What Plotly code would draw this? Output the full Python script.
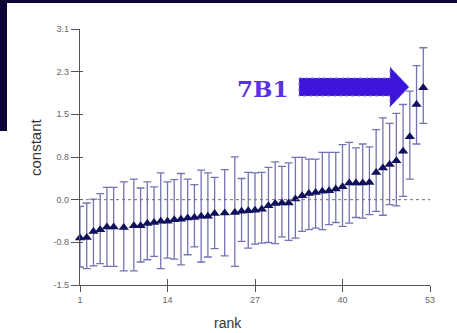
import plotly.graph_objects as go

ranks = [1, 2, 3, 4, 5, 6, 7.5, 9, 10, 11, 12, 13, 14, 15, 16, 17, 18, 19, 20, 21, 22.5, 24, 25, 26,
         27, 28, 29, 30, 31, 32, 33, 34, 35, 36, 37, 38, 39, 40, 41, 42, 43, 44, 45, 46, 47, 48, 49, 50, 51, 52]
values = [-0.69, -0.68, -0.57, -0.54, -0.49, -0.49, -0.50, -0.47, -0.47, -0.43, -0.41, -0.39, -0.39, -0.36,
          -0.35, -0.33, -0.32, -0.30, -0.30, -0.25, -0.24, -0.23, -0.21, -0.20,
          -0.19, -0.17, -0.11, -0.07, -0.06, -0.06, 0.01, 0.07, 0.11, 0.13, 0.15, 0.16, 0.19, 0.23, 0.30,
          0.30, 0.30, 0.31, 0.49, 0.57, 0.63, 0.70, 0.87, 1.13, 1.71, 2.01]
upper = [-0.12, -0.06, 0.01, 0.11, 0.22, 0.22, 0.32, 0.37, 0.21, 0.32, 0.23, 0.48, 0.32, 0.36, 0.47, 0.37,
         0.27, 0.53, 0.48, 0.40, 0.54, 0.77, 0.38, 0.49,
         0.48, 0.49, 0.58, 0.68, 0.60, 0.66, 0.76, 0.76, 0.73, 0.73, 0.85, 0.85, 0.85, 0.99, 1.03, 0.93,
         1.00, 0.95, 1.26, 1.47, 1.37, 1.55, 1.71, 1.95, 2.41, 2.73]
lower = [-1.21, -1.24, -1.19, -1.15, -1.20, -1.20, -1.28, -1.28, -1.12, -1.08, -1.02, -1.24, -1.05, -1.07,
         -1.17, -0.99, -0.85, -1.12, -1.03, -0.88, -1.01, -1.20, -0.75, -0.87,
         -0.80, -0.78, -0.77, -0.79, -0.67, -0.73, -0.69, -0.57, -0.54, -0.51, -0.54, -0.45, -0.41, -0.48,
         -0.42, -0.32, -0.33, -0.27, -0.21, -0.28, -0.09, -0.11, 0.06, 0.37, 1.00, 1.37]

x_ticks = [1, 14, 27, 40, 53]
y_step = 2.3 / 3
y_tickvals = [k * y_step for k in range(-2, 5)]
y_ticktext = ["-1.5", "-0.8", "0.0", "0.8", "1.5", "2.3", "3.1"]
label_text = "7B1"
x_title = "rank"
y_title = "constant"

err_plus = [u - v for u, v in zip(upper, values)]
err_minus = [v - l for v, l in zip(values, lower)]

fig = go.Figure()
fig.add_trace(go.Scatter(
    x=ranks, y=values, mode="markers",
    marker=dict(symbol="triangle-up", size=9, color="#10105c"),
    error_y=dict(type="data", symmetric=False, array=err_plus, arrayminus=err_minus,
                 color="#7474b4", thickness=1.3, width=4),
    cliponaxis=False, showlegend=False,
))
# invisible trace for the overlay axes (crossing ticks)
fig.add_trace(go.Scatter(x=[1], y=[0], xaxis="x2", yaxis="y2", mode="markers",
                         marker=dict(opacity=0), showlegend=False, hoverinfo="skip"))

fig.add_hline(y=0, line=dict(color="#707070", width=1, dash="dot"))

y_range = [-2 * y_step, 4 * y_step]
axis_font = dict(family="Liberation Sans, Arial, sans-serif", size=9, color="#666666")
fig.update_layout(
    width=457, height=333,
    margin=dict(l=80, r=27, t=29, b=48),
    paper_bgcolor="white", plot_bgcolor="white",
    xaxis=dict(range=[1, 53], tickvals=x_ticks, ticks="outside", ticklen=6, tickcolor="#555",
               tickwidth=1.2, showline=True, linecolor="#555", linewidth=1.2, showgrid=False,
               zeroline=False, tickfont=axis_font, automargin=False),
    yaxis=dict(range=y_range, tickvals=y_tickvals, ticktext=y_ticktext, ticks="outside", ticklen=8,
               tickcolor="#555", tickwidth=1.2, showline=True, linecolor="#555", linewidth=1.2,
               showgrid=False, zeroline=False, tickfont=axis_font, automargin=False),
    xaxis2=dict(range=[1, 53], overlaying="x", tickvals=x_ticks, ticks="inside", ticklen=6,
                tickcolor="#555", tickwidth=1.2, showticklabels=False, showgrid=False, zeroline=False,
                showline=False, automargin=False),
    yaxis2=dict(range=y_range, overlaying="y", tickvals=y_tickvals, ticks="inside", ticklen=3,
                tickcolor="#555", tickwidth=1.2, showticklabels=False, showgrid=False, zeroline=False,
                showline=False, automargin=False),
)

def px_to_paper(px, py):
    return (px - 80) / 350, (285 - py) / 256

# axis titles placed as in the reference
ax, ay = px_to_paper(228, 323)
fig.add_annotation(xref="paper", yref="paper", x=ax, y=ay, text=x_title, showarrow=False,
                   xanchor="center", yanchor="middle",
                   font=dict(family="Liberation Sans, Arial, sans-serif", size=14, color="#333"))
bx, by = px_to_paper(35, 147)
fig.add_annotation(xref="paper", yref="paper", x=bx, y=by, text=y_title, showarrow=False,
                   textangle=-90, xanchor="center", yanchor="middle",
                   font=dict(family="Liberation Sans, Arial, sans-serif", size=15, color="#333"))

# frame decoration (dark navy bands at top and left)
x0, y0 = px_to_paper(0, 0)
x1, y1 = px_to_paper(7, 131)
fig.add_shape(type="rect", xref="paper", yref="paper", x0=x0, y0=y1, x1=x1, y1=y0,
              fillcolor="#0b0634", line=dict(width=0), layer="above")
x2, y2 = px_to_paper(457, 3)
fig.add_shape(type="rect", xref="paper", yref="paper", x0=x0, y0=y2, x1=x2, y1=y0,
              fillcolor="#0b0634", line=dict(width=0), layer="above")

# block arrow pointing at the top point
pts = [(299, 78), (390, 78), (390, 67), (409, 87), (390, 107), (390, 96), (299, 96)]
path = ""
for i, (px, py) in enumerate(pts):
    a, b = px_to_paper(px, py)
    path += ("M" if i == 0 else "L") + f"{a:.4f},{b:.4f} "
path += "Z"
fig.add_shape(type="path", xref="paper", yref="paper", path=path,
              fillcolor="#3c14dc", line=dict(color="#8a80f0", width=1, dash="dot"))

tx, ty = px_to_paper(262, 88)
fig.add_annotation(xref="paper", yref="paper", x=tx, y=ty, text=f"<b>{label_text}</b>",
                   showarrow=False, xanchor="center", yanchor="middle",
                   font=dict(family="DejaVu Serif, Liberation Serif, serif", size=23, color="#5a32e6"))

fig.write_html("out.html")
